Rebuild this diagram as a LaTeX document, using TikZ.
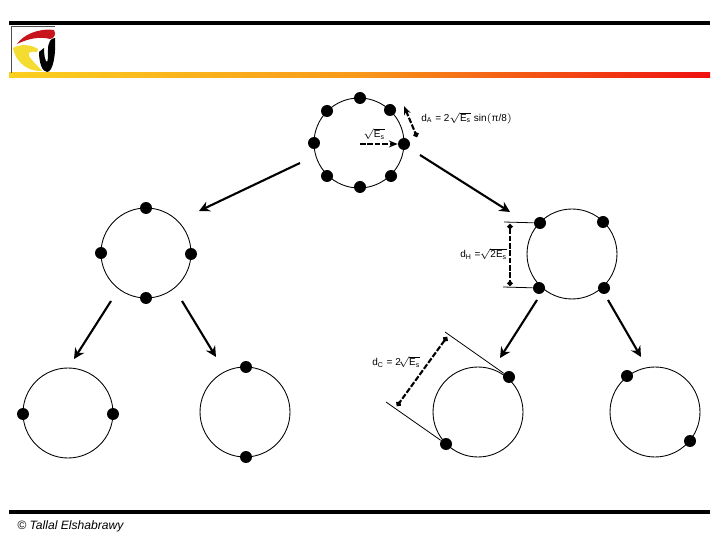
\documentclass[tikz,border=0pt]{standalone}
\usepackage{amsmath,amssymb}
\usepackage{fontspec}
\setmainfont{Liberation Sans}
\usepackage{tikz}
\usetikzlibrary{arrows.meta, calc}
\usepackage{xcolor}
\definecolor{baryellow}{HTML}{FBD020}
\definecolor{barmid}{HTML}{F8981A}
\definecolor{barred}{HTML}{EE1010}
\definecolor{logored}{HTML}{C8141C}
\definecolor{logoyellow}{HTML}{F4DC30}
\newcommand{\Es}{\mbox{E\textsubscript{s}}}

\begin{document}
\begin{tikzpicture}[
    x=0.02cm, y=-0.02cm,
    ring/.style = {circle, draw=black, line width=0.5pt, minimum size=1.8cm, inner sep=0pt},
    dot/.style = {circle, fill=black, minimum size=0.24cm, inner sep=0pt},
    branch/.style = {-{Stealth[length=6pt, width=6pt]}, line width=1.2pt},
    markline/.style = {dash pattern=on 3.2pt off 1pt, line width=1.2pt},
    measure/.style = {markline, {Circle[length=3pt]}-{Circle[length=3pt]}},
    guide/.style = {draw=black, line width=0.45pt},
    label/.style = {font=\fontsize{5.7}{7}\selectfont, inner sep=0pt, anchor=west},
    bar/.style = {fill=black, draw=none}
]
\useasboundingbox (0,0) rectangle (720,540);

% Bars
\fill [bar] (9,21) rectangle (710,25);
\fill [bar] (9,510) rectangle (710,514);
\shade [left color=baryellow, right color=barred, middle color=barmid] (9,73) rectangle (710,78);

% Logo
\draw [draw=black!70, line width=0.4pt] (11,73) -- (11,26) -- (55,26);
\fill [logored] (17,44) .. controls (23,35) and (38,28) .. (54,30) .. controls (56,34) and (55,38) .. (50,39) .. controls (40,36) and (27,39) .. (17,44) -- cycle;
\fill [logoyellow] (13,48) .. controls (20,44) and (30,44) .. (38,49) -- (37,52) .. controls (32,51) and (27,52) .. (29,56) .. controls (32,61) and (38,66) .. (42,71) .. controls (30,72) and (16,64) .. (13,48) -- cycle;
\fill [black] (39,52) .. controls (39,62) and (42,72) .. (47,72) .. controls (53,72) and (56,55) .. (55,38) .. controls (51,38) and (48,42) .. (48,50) .. controls (48,56) and (48,61) .. (47,62) .. controls (45,61) and (44,55) .. (44,48) -- cycle;

% Top ring
\node (topring) [ring] at (359,143) {};
\node (t1) [dot] at (360,98) {};
\node (t2) [dot] at (327,111) {};
\node (t3) [dot] at (390,110) {};
\node (t4) [dot] at (314,143) {};
\node (t5) [dot] at (404,144) {};
\node (t6) [dot] at (327,176) {};
\node (t7) [dot] at (391,176) {};
\node (t8) [dot] at (360,187) {};

% Left ring
\node (leftring) [ring] at (146,253) {};
\node (l1) [dot] at (146,208) {};
\node (l2) [dot] at (101,253) {};
\node (l3) [dot] at (191,254) {};
\node (l4) [dot] at (146,298) {};

% Right ring
\node (rightring) [ring] at (572,254) {};
\node (r1) [dot] at (540,223) {};
\node (r2) [dot] at (603,222) {};
\node (r3) [dot] at (539,288) {};
\node (r4) [dot] at (604,288) {};

% Bottom rings
\node (ringa) [ring] at (68,413) {};
\node (a1) [dot] at (23,414) {};
\node (a2) [dot] at (113,414) {};
\node (ringb) [ring] at (245,412) {};
\node (b1) [dot] at (246,367) {};
\node (b2) [dot] at (246,457) {};
\node (ringc) [ring] at (478,412) {};
\node (c1) [dot] at (509,377) {};
\node (c2) [dot] at (446,444) {};
\node (ringd) [ring] at (655,412) {};
\node (d1) [dot] at (627,376) {};
\node (d2) [dot] at (690,441) {};

% Branch arrows
\coordinate (s1) at (300,163);
\coordinate (e1) at (199,211);
\coordinate (s2) at (420,155);
\coordinate (e2) at (510,212);
\coordinate (s3) at (111,301);
\coordinate (e3) at (74,359);
\coordinate (s4) at (182,301);
\coordinate (e4) at (216,357);
\coordinate (s5) at (537,300);
\coordinate (e5) at (500,358);
\coordinate (s6) at (608,300);
\coordinate (e6) at (641,357);
\draw [branch] (s1) -- (e1);
\draw [branch] (s2) -- (e2);
\draw [branch] (s3) -- (e3);
\draw [branch] (s4) -- (e4);
\draw [branch] (s5) -- (e5);
\draw [branch] (s6) -- (e6);

% Distance marks
\coordinate (centre) at (360,144);
\draw [markline, -{Stealth[length=5pt, width=4pt]}] (centre) -- (t5.west);
\coordinate (da1) at (404,106);
\coordinate (da2) at (417,137);
\draw [markline, {Stealth[length=5pt, width=4pt]}-{Circle[length=3pt]}] (da1) -- (da2);
\coordinate (dh1) at (510,224);
\coordinate (dh2) at (510,286);
\coordinate (hx1) at (504,222);
\coordinate (hx2) at (503,287);
\draw [guide] (hx1) -- (r1);
\draw [guide] (hx2) -- (r3);
\draw [measure] (dh1) -- (dh2);
\coordinate (cx1) at (445,332);
\coordinate (cx2) at (386,402);
\coordinate (dc1) at (447,337);
\coordinate (dc2) at (397,406);
\draw [guide] (cx1) -- (c1);
\draw [guide] (cx2) -- (c2);
\draw [measure] (dc1) -- (dc2);

% Labels
\node (lblroot) [label] at (363,134) {$\sqrt{\Es}$};
\node (lblda) [label] at (421,118) {d\textsubscript{A} = 2$\sqrt{\Es}$ sin$\left(\text{π/8}\right)$};
\node (lbldh) [label] at (460,254) {d\textsubscript{H} =\,$\!\sqrt{\text{2}\Es}$};
\node (lbldc) [label] at (372,362) {d\textsubscript{C} = 2$\!\sqrt{\Es}$};
\node (credit) [anchor=west, inner sep=0pt, font=\fontsize{6.9}{8}\selectfont\itshape] at (17,526) {© Tallal Elshabrawy};

\end{tikzpicture}
\end{document}
